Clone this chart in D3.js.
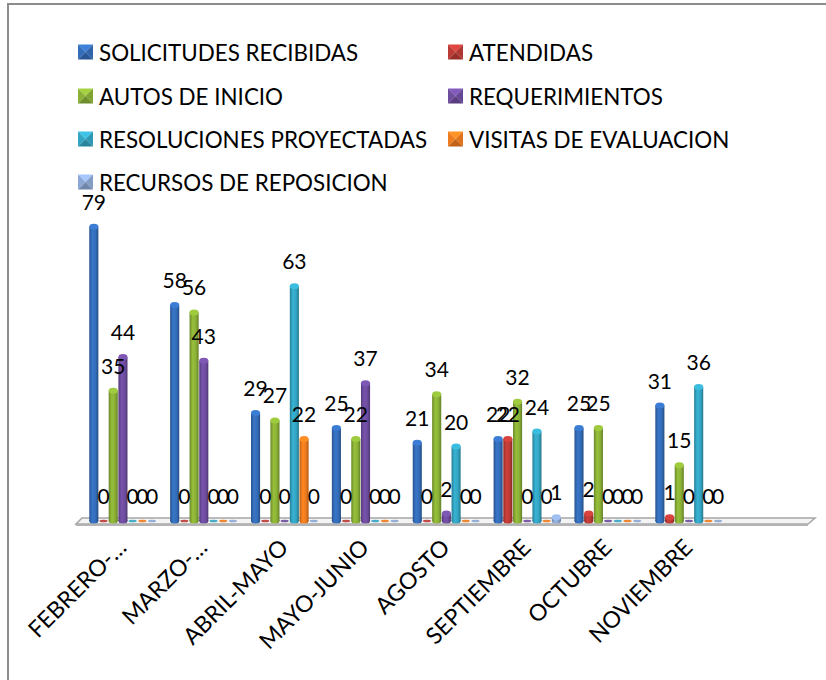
<!DOCTYPE html>
<html><head><meta charset="utf-8">
<script src="https://cdn.jsdelivr.net/npm/d3@7"></script>
<style>
body{margin:0;background:#fff}
svg{display:block}
text{font-family:Lato,"Open Sans",sans-serif;fill:#000}
</style>
</head><body>
<svg id="c" width="826" height="680"></svg>
<script>
// ---- data ----
const categories = ["FEBRERO-…","MARZO-…","ABRIL-MAYO","MAYO-JUNIO","AGOSTO","SEPTIEMBRE","OCTUBRE","NOVIEMBRE"];
const seriesNames = ["SOLICITUDES RECIBIDAS","ATENDIDAS","AUTOS DE INICIO","REQUERIMIENTOS","RESOLUCIONES PROYECTADAS","VISITAS DE EVALUACION","RECURSOS DE REPOSICION"];
const solicitudes    = [79,58,29,25,21,22,25,31];
const atendidas      = [0,0,0,0,0,22,2,1];
const autos          = [35,56,27,22,34,32,25,15];
const requerimientos = [44,43,0,37,2,0,0,0];
const resoluciones   = [0,0,63,0,20,24,0,36];
const visitas        = [0,0,22,0,0,0,0,0];
const recursos       = [0,0,0,0,0,1,0,0];
const seriesValues = [solicitudes,atendidas,autos,requerimientos,resoluciones,visitas,recursos];
const seriesColors = ["#336CB8","#BC3A35","#8AB036","#6E4C9E","#33A4C2","#EE7B1E","#8CA7D3"];

const svg = d3.select("#c");
const defs = svg.append("defs");

// scales
const x = d3.scaleBand().domain(categories).range([82.5, 729.4]).paddingInner(0.16).paddingOuter(0.08);
const xs = d3.scaleBand().domain(seriesNames).range([0, x.bandwidth()]).padding(0);
const y = d3.scaleLinear().domain([0, 80]).range([521, 223]);
const bw = xs.bandwidth();

// chart border
svg.append("path").attr("d","M8,680V4H826").attr("fill","none").attr("stroke","#8c8c8c").attr("stroke-width",2);

// gradients
seriesColors.forEach((c,i)=>{
  const g = defs.append("linearGradient").attr("id","g"+i).attr("x1","0").attr("x2","1").attr("y1","0").attr("y2","0");
  const base = d3.color(c);
  g.append("stop").attr("offset","0%").attr("stop-color", base.darker(0.7));
  g.append("stop").attr("offset","35%").attr("stop-color", base.brighter(0.25));
  g.append("stop").attr("offset","70%").attr("stop-color", base);
  g.append("stop").attr("offset","100%").attr("stop-color", base.darker(0.9));
});

// floor
const fl = x.range()[0] - 0.5, fr = 815;
svg.append("polygon")
  .attr("points", `${fl},518 ${fr},518 ${fr-7},524 ${fl-6},524`)
  .attr("fill","#f4f4f4").attr("stroke","#a6a6a6").attr("stroke-width",1.5);
svg.append("path").attr("d",`M${fl-6},525H${fr-7}`).attr("stroke","#b3b3b3").attr("stroke-width",2);

// bars (cylinders)
const groups = svg.append("g").selectAll("g").data(categories).join("g")
  .attr("transform", d=>`translate(${x(d)},0)`);

seriesNames.forEach((s,si)=>{
  const vals = seriesValues[si];
  const gg = groups.append("g");
  gg.each(function(cat, ci){
    const v = vals[ci];
    const g = d3.select(this);
    const cx = xs(s) + bw/2;
    const top = y(v), bot = y(0);
    const rx = bw/2 - 0.3, ry = 2.5;
    if (v > 0) {
      g.append("rect").attr("x", cx-rx).attr("y", top).attr("width", rx*2).attr("height", bot-top)
        .attr("fill", `url(#g${si})`);
      g.append("ellipse").attr("cx", cx).attr("cy", bot).attr("rx", rx).attr("ry", ry).attr("fill", `url(#g${si})`);
      g.append("ellipse").attr("cx", cx).attr("cy", top).attr("rx", rx).attr("ry", ry+0.5)
        .attr("fill", d3.color(seriesColors[si]).brighter(0.4));
    } else {
      g.append("ellipse").attr("cx", cx).attr("cy", bot).attr("rx", rx-0.5).attr("ry", 1.3)
        .attr("fill", seriesColors[si]).attr("opacity",0.9);
    }
  });
});

// value labels
seriesNames.forEach((s,si)=>{
  const vals = seriesValues[si];
  groups.append("text")
    .attr("x", xs(s) + bw/2)
    .attr("y", (d,ci)=> y(vals[ci]) - 17)
    .attr("text-anchor","middle")
    .attr("font-size", 21)
    .text((d,ci)=> vals[ci]);
});

// category labels
svg.append("g").selectAll("text").data(categories).join("text")
  .attr("transform", d=>`translate(${x(d)+x.bandwidth()/2+5},549) rotate(-45)`)
  .attr("text-anchor","end")
  .attr("font-size", 23)
  .text(d=>d);

// legend
const legCols = [78, 448];
const legRows = [52, 96, 139, 182];
const leg = svg.append("g").selectAll("g").data(seriesNames).join("g")
  .attr("transform",(d,i)=>`translate(${legCols[i%2]},${legRows[Math.floor(i/2)]})`);
const m = 7.5;
leg.each(function(d,i){
  const g = d3.select(this);
  const c = d3.color(seriesColors[i]);
  g.append("polygon").attr("points",`0,${-m} ${2*m},${-m} ${m},0`).attr("fill", c.brighter(0.5));
  g.append("polygon").attr("points",`0,${m} ${2*m},${m} ${m},0`).attr("fill", c.darker(0.6));
  g.append("polygon").attr("points",`0,${-m} 0,${m} ${m},0`).attr("fill", c);
  g.append("polygon").attr("points",`${2*m},${-m} ${2*m},${m} ${m},0`).attr("fill", c.darker(0.2));
});
leg.append("text").attr("x",21).attr("y",8.5).attr("font-size",22.4).text(d=>d);
</script>
</body></html>
